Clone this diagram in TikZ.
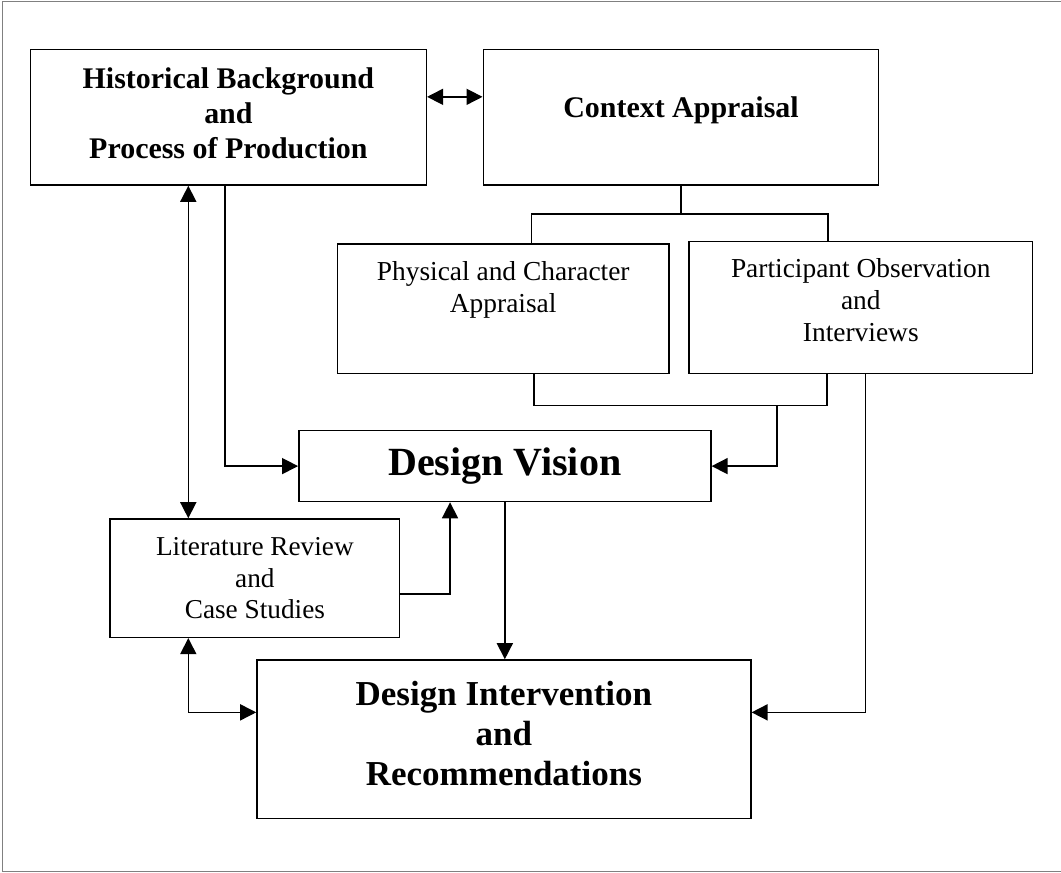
\documentclass[tikz,border=0pt]{standalone}
\usepackage{fontspec}
\setmainfont{Liberation Serif}
\usetikzlibrary{arrows.meta}

\begin{document}
\begin{tikzpicture}[
  line width=1.1pt,
  box/.style={draw, inner sep=0pt, align=center,
    font=\fontsize{19.5}{22.8}\selectfont},
  headbox/.style={box, font=\fontsize{21.3}{24.9}\selectfont\bfseries},
  flow/.style={-{Triangle[length=4mm, width=4mm]}},
  twoway/.style={{Triangle[length=4mm, width=4mm]}-{Triangle[length=4mm, width=4mm]}},
  frame/.style={draw=black!50, line width=0.7pt}
]
\useasboundingbox (0,0) rectangle (26.525,-21.825);
\draw[frame] (0.0625,-0.025) rectangle (26.6,-21.79);
% top row
\node[headbox, minimum width=9.895cm, minimum height=3.3875cm] (hist) at (5.71,-2.931)
  {Historical Background\\and\\Process of Production\\[-0.675cm]\mbox{}};
\node[headbox, minimum width=9.885cm, minimum height=3.3875cm] (context) at (17.025,-2.931)
  {Context Appraisal\\[-0.36cm]\mbox{}};
\draw[twoway] ([yshift=0.51cm]hist.east) -- ([yshift=0.51cm]context.west);
% appraisal row
\node[box, minimum width=8.29cm, minimum height=3.2325cm] (phys) at (12.58,-7.7175)
  {Physical and Character\\Appraisal\\[0.3cm]\mbox{}};
\node[box, minimum width=8.578cm, minimum height=3.29cm] (part) at (21.52,-7.6875)
  {Participant Observation\\and\\Interviews\\[-0.425cm]\mbox{}};
\draw (context.south) -- ++(0,-0.71) coordinate (split);
\draw ([xshift=0.71cm]phys.north) |- (split) -| ([xshift=-0.82cm]part.north);
\draw ([xshift=0.77cm]phys.south) -- ++(0,-0.79) -| ([xshift=-0.84cm]part.south);
\coordinate (merge) at (19.43,-10.125);
% vision
\node[box, minimum width=10.30cm, minimum height=1.77cm,
  font=\fontsize{28.45}{32.7}\selectfont\bfseries] (vision) at (12.621,-11.6525)
  {Design Vision};
\draw[flow] ([xshift=-0.085cm]hist.south) |- (vision.west);
\draw[flow] (merge) |- (vision.east);
% literature and intervention
\node[box, minimum width=7.235cm, minimum height=2.9575cm,
  font=\fontsize{19.4}{22.1}\selectfont] (lit) at (6.3725,-14.454)
  {Literature Review\\and\\Case Studies};
\node[box, minimum width=12.345cm, minimum height=3.9575cm,
  font=\fontsize{24.9}{28.45}\selectfont\bfseries] (inter) at (12.5975,-18.479)
  {Design Intervention\\and\\Recommendations\\[-0.7cm]\mbox{}};
\draw[twoway] ([xshift=-1.665cm]lit.north) -- ([xshift=-1.665cm]lit.north |- hist.south);
\draw[flow] ([yshift=-0.4cm]lit.east) -| ([xshift=-1.37cm]vision.south);
\draw[flow] (vision.south) -- (vision.south |- inter.north);
\draw[twoway] ([xshift=-1.665cm]lit.south) |- ([yshift=0.67cm]inter.west);
\draw[flow] ([xshift=0.12cm]part.south) |- ([yshift=0.67cm]inter.east);
\end{tikzpicture}
\end{document}
